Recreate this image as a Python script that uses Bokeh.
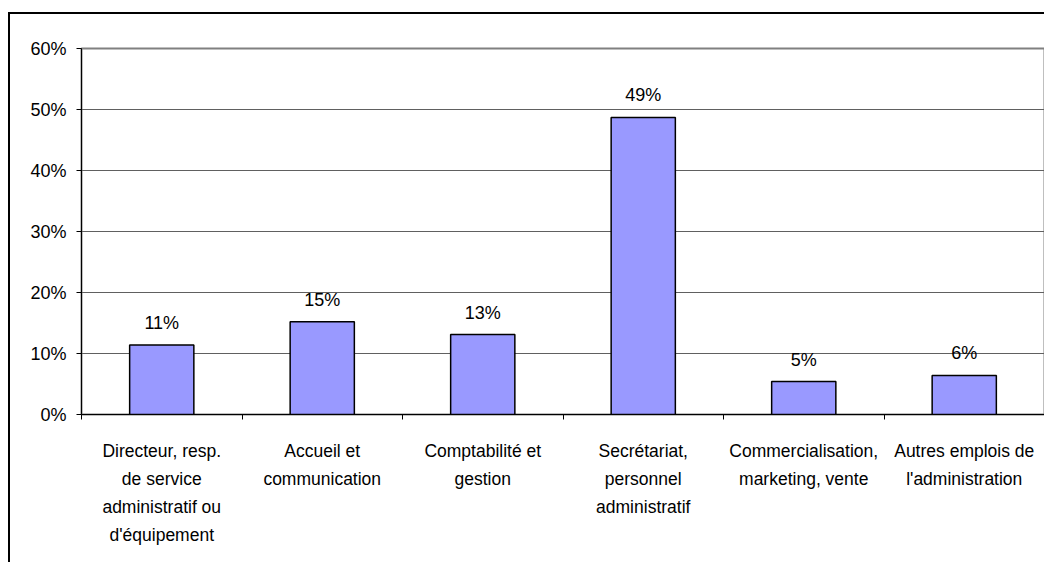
import numpy as np
from bokeh.plotting import figure
from bokeh.models import ColumnDataSource, Range1d, FixedTicker
from bokeh.core.properties import value
from bokeh.embed import file_html
from bokeh.resources import INLINE

# ---- data ----
categories = [
    "Directeur, resp.\nde service\nadministratif ou\nd'équipement",
    "Accueil et\ncommunication",
    "Comptabilité et\ngestion",
    "Secrétariat,\npersonnel\nadministratif",
    "Commercialisation,\nmarketing, vente",
    "Autres emplois de\nl'administration",
]
values = [11.4, 15.2, 13.1, 48.7, 5.4, 6.4]
value_labels = ["11%", "15%", "13%", "49%", "5%", "6%"]
y_ticks = [0, 10, 20, 30, 40, 50, 60]
y_tick_labels = ["0%", "10%", "20%", "30%", "40%", "50%", "60%"]

FONT = "Liberation Sans"

n = len(categories)
centers = np.arange(n) + 0.5
bounds = list(np.arange(n + 1).astype(float))

src = ColumnDataSource(dict(x=centers, top=values, label=value_labels))

# canvas placed at (10,14) after CSS margin + 2px border
p = figure(width=1036, height=550, output_backend="svg", toolbar_location=None,
           x_range=Range1d(0, n), y_range=Range1d(0, 60),
           min_border_left=71, min_border_right=2, min_border_top=34,
           min_border_bottom=150)

p.styles = {"margin-left": "8px", "margin-top": "12px",
            "border-left": "2px solid black", "border-top": "2px solid black"}

p.background_fill_color = "white"
p.border_fill_color = "white"
p.outline_line_color = "#808080"
p.outline_line_width = 2

# bars
p.vbar(x="x", top="top", width=0.4, source=src, fill_color="#9999FF",
       line_color="black", line_width=1.5)

# value labels
p.text(x="x", y="top", text="label", source=src, text_align="center",
       text_baseline="alphabetic", y_offset=-22,
       text_font=value(FONT), text_font_size="18px", text_color="black")

# x axis
p.xaxis.ticker = FixedTicker(ticks=list(centers), minor_ticks=bounds)
p.xaxis.major_label_overrides = {float(c): lab for c, lab in zip(centers, categories)}
p.xaxis.major_tick_line_color = None
p.xaxis.major_tick_out = 0
p.xaxis.major_tick_in = 0
p.xaxis.minor_tick_line_color = "black"
p.xaxis.minor_tick_out = 5
p.xaxis.minor_tick_in = 0
p.xaxis.axis_line_color = "black"
p.xaxis.axis_line_width = 1
p.xaxis.major_label_text_font = FONT
p.xaxis.major_label_text_font_size = "17.5px"
p.xaxis.major_label_text_color = "black"
p.xaxis.major_label_text_line_height = 1.4
p.xaxis.major_label_standoff = 21
p.xaxis.major_label_orientation = "horizontal"

# y axis
p.yaxis.ticker = FixedTicker(ticks=y_ticks, minor_ticks=[])
p.yaxis.major_label_overrides = {t: l for t, l in zip(y_ticks, y_tick_labels)}
p.yaxis.major_tick_out = 5
p.yaxis.major_tick_in = 0
p.yaxis.major_tick_line_color = "black"
p.yaxis.axis_line_color = "black"
p.yaxis.major_label_text_font = FONT
p.yaxis.major_label_text_font_size = "18px"
p.yaxis.major_label_text_color = "black"
p.yaxis.major_label_standoff = 10

# grid
p.xgrid.grid_line_color = None
p.ygrid.ticker = FixedTicker(ticks=y_ticks)
p.ygrid.grid_line_color = "#606060"
p.ygrid.grid_line_width = 1

open("out.html", "w").write(file_html(p, INLINE))
